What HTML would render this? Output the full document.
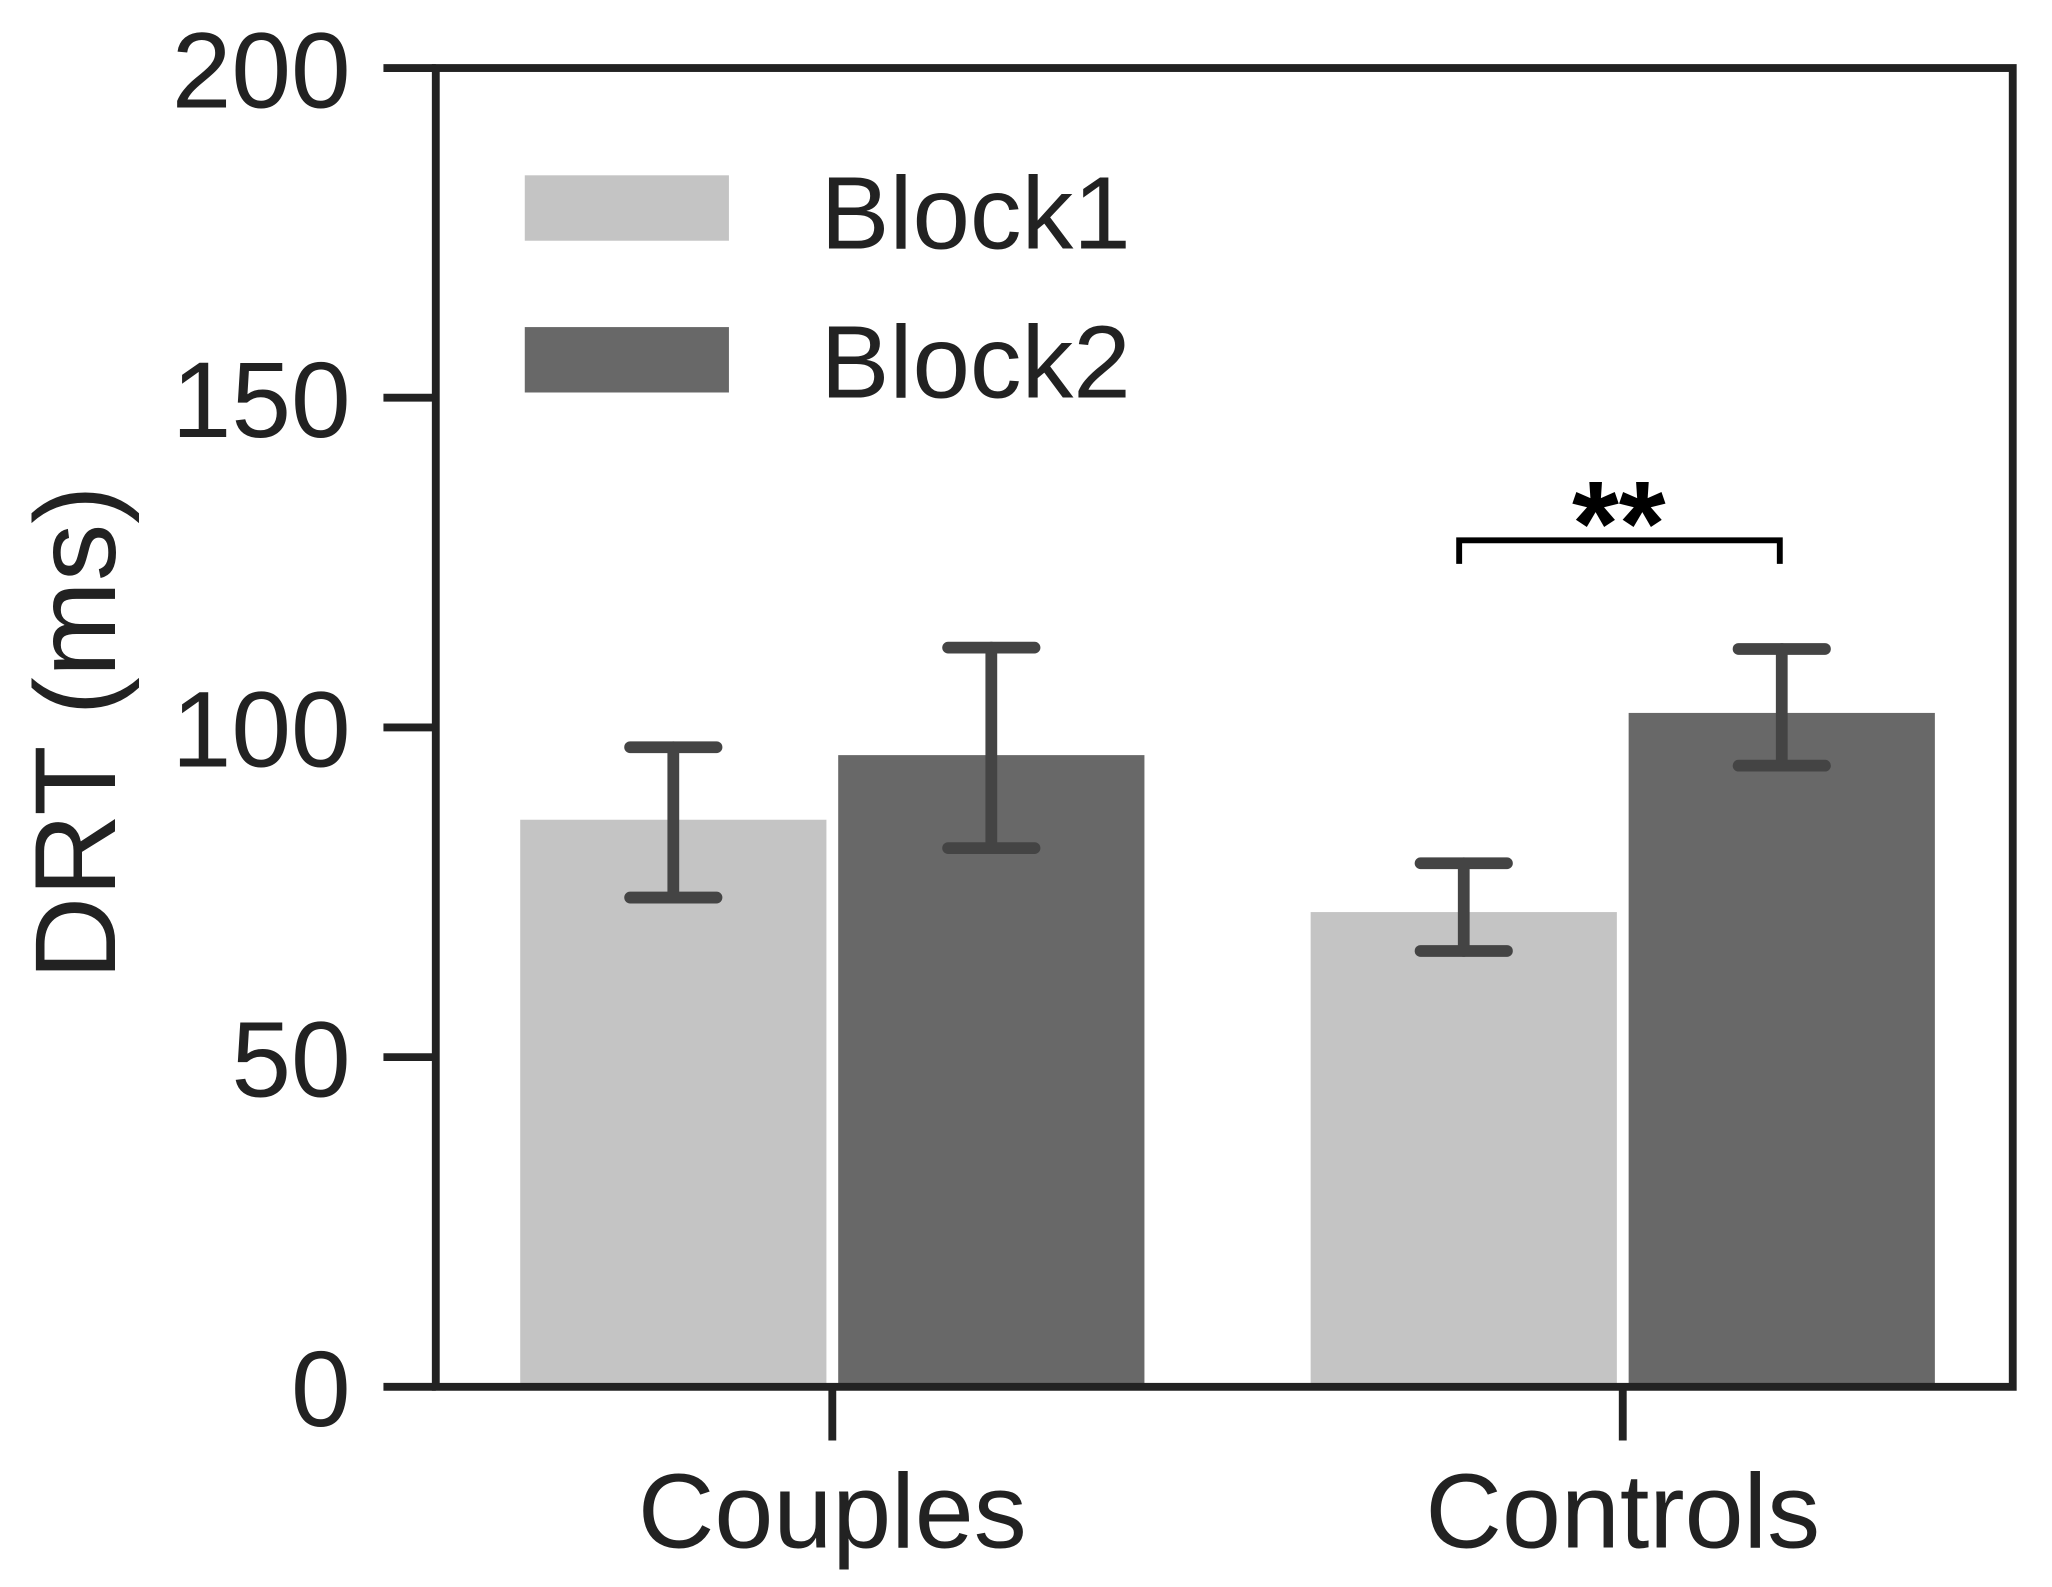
<!DOCTYPE html>
<html><head><meta charset="utf-8"><style>
html,body{margin:0;padding:0;background:#fff;}
svg{display:block;}
text{font-family:"Liberation Sans",Arial,sans-serif;fill:#222;}
</style></head><body>
<svg id="chart" width="2052" height="1587" viewBox="0 0 1568 1213" preserveAspectRatio="none" xmlns="http://www.w3.org/2000/svg">
<g id="bars"></g>
<g id="errs"></g>
<g id="axes"></g>
<g>
  <rect x="401" y="134" width="156" height="50" fill="#c4c4c4"/>
  <text x="627" y="190" font-size="79">Block1</text>
  <rect x="401" y="250" width="156" height="50" fill="#686868"/>
  <text x="627" y="304" font-size="79">Block2</text>
</g>
<g>
  <path d="M1115 431 V413 H1360 V431" fill="none" stroke="#000" stroke-width="4.5"/>
  <text x="1237" y="432" font-size="92" font-weight="bold" text-anchor="middle" style="fill:#000">**</text>
</g>
<text transform="translate(88,560) rotate(-90)" font-size="88" text-anchor="middle">DRT (ms)</text>
</svg>
<script>
const categories = ["Couples","Controls"];
const block1 = [86, 72];
const block2 = [95.8, 102.2];
const block1Err = [[74.2, 97], [66.1, 79.4]];
const block2Err = [[81.7, 112.1], [94.2, 111.9]];
const yTicks = [0, 50, 100, 150, 200];

const NS = "http://www.w3.org/2000/svg";
const X0 = 333, X1 = 1538, Y0 = 1060, Y1 = 52;
const y = v => Y0 - (v / 200) * (Y0 - Y1);
const groupCenter = i => 636 + i * 604;
function mk(tag, attrs, parent){const e=document.createElementNS(NS,tag);for(const k in attrs)e.setAttribute(k,attrs[k]);parent.appendChild(e);return e;}
const bars = document.getElementById('bars'), errs = document.getElementById('errs'), axes = document.getElementById('axes');
const series = [[block1, block1Err, "#c4c4c4", -1], [block2, block2Err, "#686868", 1]];
categories.forEach((c, i) => {
  series.forEach(([vals, err, col, side], s) => {
    const cx = groupCenter(i) + side * 121.5;
    const r = mk('rect', {x: cx - 117, y: y(vals[i]), width: 234, height: Y0 - y(vals[i]), fill: col}, bars);
    
    
    const g = mk('g', {stroke: '#444', 'stroke-width': 9, 'stroke-linecap': 'round'}, errs);
    
    
    const lo = y(err[i][0]), hi = y(err[i][1]);
    mk('line', {x1: cx, x2: cx, y1: lo, y2: hi}, g);
    mk('line', {x1: cx - 33, x2: cx + 33, y1: lo, y2: lo}, g);
    mk('line', {x1: cx - 33, x2: cx + 33, y1: hi, y2: hi}, g);
  });
  const t = mk('line', {x1: groupCenter(i), x2: groupCenter(i), y1: Y0, y2: 1101, stroke: '#222', 'stroke-width': 6}, axes);
  
  
  const l = mk('text', {x: groupCenter(i), y: 1183, 'font-size': 81, 'text-anchor': 'middle'}, axes);
  l.textContent = c;
  
  
});
const frame = mk('rect', {x: X0, y: Y1, width: X1 - X0, height: Y0 - Y1, fill: 'none', stroke: '#222', 'stroke-width': 6}, axes);


yTicks.forEach(v => {
  const t = mk('line', {x1: 293, x2: X0, y1: y(v), y2: y(v), stroke: '#222', 'stroke-width': 6}, axes);
  
  
  const l = mk('text', {x: 268, y: y(v) + 30, 'font-size': 82, 'text-anchor': 'end'}, axes);
  l.textContent = v;
  
  
});
</script>
</body></html>
